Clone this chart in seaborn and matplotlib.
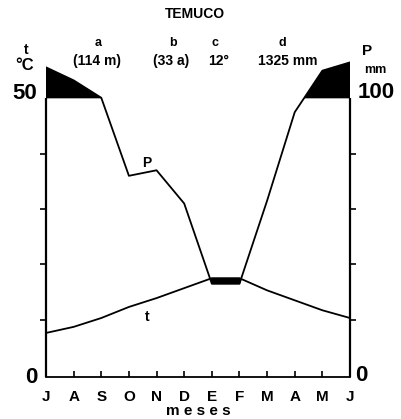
import numpy as np
import pandas as pd
import matplotlib
matplotlib.use("Agg")
import matplotlib.pyplot as plt
import seaborn as sns

# ---- data ----
months = ["J", "A", "S", "O", "N", "D", "E", "F", "M", "A", "M", "J"]
temp_c = [7.6, 8.7, 10.3, 12.3, 13.9, 15.7, 17.5, 17.5, 15.3, 13.5, 11.7, 10.3]
precip_mm = [212, 165, 102, 72, 74, 62, 33, 33, 63, 95, 200, 230]
title = "TEMUCO"
header_keys = ["a", "b", "c", "d"]
header_vals = ["(114 m)", "(33 a)", "12°", "1325 mm"]


def scale_p(p):
    p = np.asarray(p, dtype=float)
    return np.where(p <= 100, p / 2.0, 50 + (p - 100) / 20.0)


sns.set_style("white")
FONT = ["Liberation Sans", "DejaVu Sans"]
plt.rcParams["font.family"] = FONT
plt.rcParams["text.color"] = "black"
plt.rcParams["axes.labelcolor"] = "black"
plt.rcParams["xtick.color"] = "black"
plt.rcParams["ytick.color"] = "black"

df = pd.DataFrame({
    "m": np.arange(len(months)),
    "t": temp_c,
    "p": scale_p(precip_mm),
})

W, H = 402, 419
fig = plt.figure(figsize=(W / 100, H / 100), dpi=100)
ax = fig.add_axes([46 / W, 42 / H, 304 / W, 334 / H])
ax.set_xlim(0, 11)
ax.set_ylim(-0.36, 60)

x = df["m"].values
t = df["t"].values
p = df["p"].values

# humid excess above 100 mm (compressed scale) in black
ax.fill_between(x, 50, p, where=p > 50, interpolate=True, color="black", lw=0)
# arid period (P < 2T) in black
ax.fill_between(x, p, t, where=p < t, interpolate=True, color="black", lw=0)

sns.lineplot(data=df, x="m", y="t", ax=ax, color="black", lw=1.3, legend=False)
sns.lineplot(data=df, x="m", y="p", ax=ax, color="black", lw=1.3, legend=False)

for s in ["top", "left", "right"]:
    ax.spines[s].set_visible(False)
ax.spines["bottom"].set_linewidth(1.3)
ax.spines["bottom"].set_color("black")
ax.vlines([0, 11], -0.36, 50, color="black", lw=1.6, clip_on=False)

ax.set_yticks([10, 20, 30, 40])
ax.set_yticklabels([])
ax.tick_params(axis="y", left=True, right=True, direction="out", length=4,
               width=1.2, color="black")
ax.set_xticks(x)
ax.set_xticklabels(months, fontsize=11, fontweight="bold")
ax.tick_params(axis="x", bottom=True, direction="in", length=4, width=1.2,
               pad=9, color="black")
ax.set_xlabel("m e s e s", fontsize=11, fontweight="bold", labelpad=0)
ax.set_ylabel("")

# axis labels
big = dict(fontsize=16, fontweight="bold", va="center")
fig.text(25 / W, 1 - 93 / H, "50", ha="center", **big)
fig.text(31 / W, 1 - 377 / H, "0", ha="center", **big)
fig.text(376 / W, 1 - 92 / H, "100", ha="center", **big)
fig.text(361 / W, 1 - 375 / H, "0", ha="center", **big)
fig.text(26 / W, 1 - 50 / H, "t", ha="center", va="center", fontsize=10, fontweight="bold")
fig.text(25 / W, 1 - 66 / H, "°C", ha="center", va="center", fontsize=12, fontweight="bold")
fig.text(367 / W, 1 - 51 / H, "P", ha="center", va="center", fontsize=11, fontweight="bold")
fig.text(375 / W, 1 - 70 / H, "mm", ha="center", va="center", fontsize=9, fontweight="bold")

# header
fig.text(195 / W, 1 - 14 / H, title, ha="center", va="center", fontsize=10, fontweight="bold")
for k, v, xk, xv in zip(header_keys, header_vals, [98, 173, 215, 282], [97, 171, 219, 288]):
    fig.text(xk / W, 1 - 43 / H, k, ha="center", va="center", fontsize=9, fontweight="bold")
    fig.text(xv / W, 1 - 61 / H, v, ha="center", va="center", fontsize=10, fontweight="bold")

# curve labels
ax.text(3.66, 10.5, "t", ha="center", va="center", fontsize=10, fontweight="bold")
ax.text(3.66, 38.4, "P", ha="center", va="center", fontsize=10, fontweight="bold")

fig.savefig("out.png", dpi=100)
